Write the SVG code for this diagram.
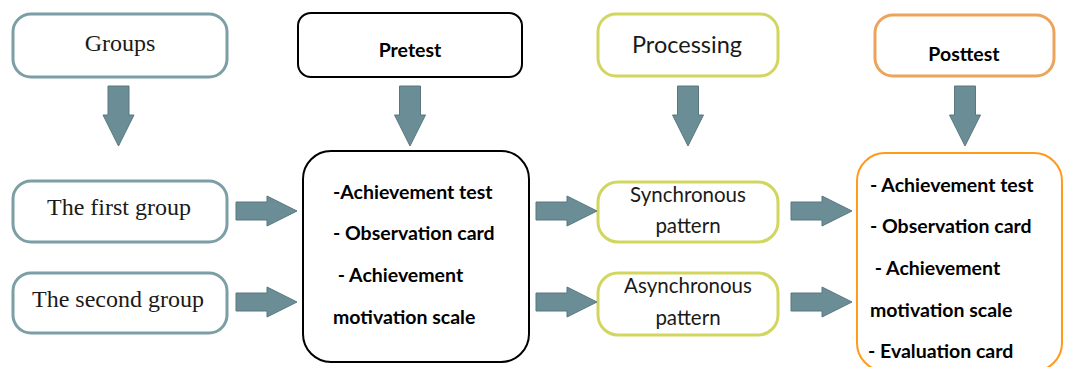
<svg xmlns="http://www.w3.org/2000/svg" width="1065" height="367" viewBox="0 0 1065 367">
<style>
.teal{fill:#fff;stroke:#7c9ea5;stroke-width:3}
.blk{fill:#fff;stroke:#000;stroke-width:2}
.yel{fill:#fff;stroke:#d2d65e;stroke-width:3}
.org{fill:#fff;stroke:#eca35c;stroke-width:3}
.org2{fill:#fff;stroke:#ff9a1a;stroke-width:2}
.serif{font-family:"Liberation Serif","Times New Roman",serif;font-size:24px;fill:#1a1a1a}
.sans{font-family:Lato,"Open Sans",sans-serif;font-size:20.5px;fill:#1a1a1a}
.bold{font-family:Lato,"Open Sans",sans-serif;font-size:19.5px;font-weight:bold;fill:#000}
.arr{fill:#6b8e96;stroke:#58777e;stroke-width:1}
</style>
<defs>
<path id="down" d="M-10.5,0 H10.5 V29 H15.5 L0,60 L-15.5,29 H-10.5 Z"/>
<path id="right" d="M0,-9 H31 V-15 L61,0 L31,15 V9 H0 Z"/>
</defs>
<g id="groups"><rect class="teal" x="13" y="14" width="214" height="63" rx="18"/><text class="serif" x="120" y="51" text-anchor="middle">Groups</text></g>
<g id="pretest"><rect class="blk" x="298" y="13" width="224" height="64" rx="13"/><text class="bold" x="410" y="57" text-anchor="middle">Pretest</text></g>
<g id="processing"><rect class="yel" x="598" y="14" width="180" height="62" rx="18"/><text class="sans" x="687" y="53" text-anchor="middle" style="font-size:23.5px">Processing</text></g>
<g id="posttest"><rect class="org" x="875" y="15" width="179" height="61" rx="18"/><text class="bold" x="964" y="61" text-anchor="middle">Posttest</text></g>
<g id="first-group"><rect class="teal" x="13" y="181" width="214" height="61" rx="18"/><text class="serif" x="119" y="215" text-anchor="middle">The first group</text></g>
<g id="second-group"><rect class="teal" x="13" y="273" width="214" height="60" rx="18"/><text class="serif" x="118" y="307" text-anchor="middle">The second group</text></g>
<g id="pretest-tools"><rect class="blk" x="303" y="151" width="226" height="211" rx="28"/>
<text class="bold" x="333" y="199">-Achievement test</text>
<text class="bold" x="333" y="240">- Observation card</text>
<text class="bold" x="333" y="282" xml:space="preserve"> - Achievement</text>
<text class="bold" x="333" y="324">motivation scale</text></g>
<g id="synchronous"><rect class="yel" x="598" y="182" width="180" height="60" rx="20"/><text class="sans" x="688" y="202" text-anchor="middle">Synchronous</text><text class="sans" x="688" y="233" text-anchor="middle">pattern</text></g>
<g id="asynchronous"><rect class="yel" x="598" y="273" width="180" height="62" rx="20"/><text class="sans" x="688" y="293" text-anchor="middle">Asynchronous</text><text class="sans" x="688" y="325" text-anchor="middle">pattern</text></g>
<g id="posttest-tools"><rect class="org2" x="857" y="153" width="205" height="218" rx="28"/>
<text class="bold" x="870" y="192">- Achievement test</text>
<text class="bold" x="870" y="233">- Observation card</text>
<text class="bold" x="870" y="275" xml:space="preserve"> - Achievement</text>
<text class="bold" x="870" y="317">motivation scale</text>
<text class="bold" x="868" y="358">- Evaluation card</text></g>
<g id="connectors">
<use href="#down" class="arr" x="118.5" y="86"/>
<use href="#down" class="arr" x="410" y="86"/>
<use href="#down" class="arr" x="688" y="86"/>
<use href="#down" class="arr" x="965" y="86"/>
<use href="#right" class="arr" x="236" y="211"/>
<use href="#right" class="arr" x="236" y="302"/>
<use href="#right" class="arr" x="536" y="211"/>
<use href="#right" class="arr" x="536" y="302"/>
<use href="#right" class="arr" x="791" y="211"/>
<use href="#right" class="arr" x="791" y="302"/>
</g>
</svg>
